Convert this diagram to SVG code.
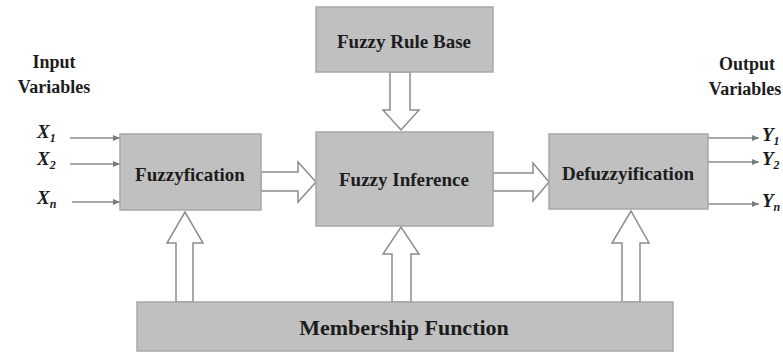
<svg xmlns="http://www.w3.org/2000/svg" width="783" height="352" viewBox="0 0 783 352">
<style>
.box{fill:#c0c0c0;stroke:#a8a8a8;stroke-width:1.5}
.lbl{font-family:"Liberation Serif","Times New Roman",serif;font-weight:bold;font-size:19px;fill:#1c1c1c;text-anchor:middle}
.side{font-family:"Liberation Serif","Times New Roman",serif;font-weight:bold;font-size:18px;fill:#1c1c1c;text-anchor:middle}
.var{font-family:"Liberation Serif","Times New Roman",serif;font-weight:bold;font-style:italic;font-size:19px;fill:#1c1c1c}
.sub{font-size:12px}
.blk{fill:#ffffff;stroke:#8c8c8c;stroke-width:1.5;stroke-linejoin:miter}
.ln{stroke:#8c8c8c;stroke-width:1.3;fill:none;marker-end:url(#ah)}
</style>
<defs>
<marker id="ah" markerWidth="8" markerHeight="8" refX="7" refY="4" orient="auto" markerUnits="userSpaceOnUse">
<path d="M0,1 L7,4 L0,7 Z" fill="#7a7a7a"/>
</marker>
</defs>
<rect width="783" height="352" fill="#ffffff"/>
<g id="labels">
<text class="side" x="54" y="68">Input</text>
<text class="side" x="54" y="93">Variables</text>
<text class="side" x="747" y="70">Output</text>
<text class="side" x="745" y="95">Variables</text>
<text class="var" x="37" y="138">X<tspan class="sub" dy="4">1</tspan></text>
<text class="var" x="37" y="165">X<tspan class="sub" dy="4">2</tspan></text>
<text class="var" x="37" y="204">X<tspan class="sub" dy="4">n</tspan></text>
<text class="var" x="762" y="141">Y<tspan class="sub" dy="4">1</tspan></text>
<text class="var" x="762" y="165">Y<tspan class="sub" dy="4">2</tspan></text>
<text class="var" x="762" y="207">Y<tspan class="sub" dy="4">n</tspan></text>
</g>
<g id="connectors">
<line class="ln" x1="70" y1="138" x2="120" y2="138"/>
<line class="ln" x1="70" y1="164" x2="120" y2="164"/>
<line class="ln" x1="72" y1="202" x2="120" y2="202"/>
<line class="ln" x1="708" y1="138" x2="759" y2="138"/>
<line class="ln" x1="708" y1="162" x2="759" y2="162"/>
<line class="ln" x1="708" y1="204" x2="759" y2="204"/>
<polygon class="blk" points="390,72 410,72 410,110 419,110 401,130 383,110 390,110"/>
<polygon class="blk" points="261,172 298,172 298,162 316,182 298,202 298,191 261,191"/>
<polygon class="blk" points="493,173 533,173 533,163 549,182 533,201 533,191 493,191"/>
<polygon class="blk" points="176,302 176,243 167,243 185,212 203,243 193,243 193,302"/>
<polygon class="blk" points="392,302 392,254 383,254 401,227 419,254 411,254 411,302"/>
<polygon class="blk" points="622,302 622,243 612,243 631,211 649,243 640,243 640,302"/>
</g>
<g id="rulebase">
<rect class="box" x="316" y="7" width="177" height="65"/>
<text class="lbl" x="404" y="48">Fuzzy Rule Base</text>
</g>
<g id="fuzzyfication">
<rect class="box" x="120" y="134" width="141" height="76"/>
<text class="lbl" x="190" y="181">Fuzzyfication</text>
</g>
<g id="inference">
<rect class="box" x="316" y="132" width="177" height="94"/>
<text class="lbl" x="404" y="186">Fuzzy Inference</text>
</g>
<g id="defuzzification">
<rect class="box" x="549" y="134" width="159" height="75"/>
<text class="lbl" x="628" y="180">Defuzzyification</text>
</g>
<g id="membership">
<rect class="box" x="137" y="302" width="536" height="49"/>
<text class="lbl" x="404" y="335" style="font-size:22px">Membership Function</text>
</g>
</svg>
